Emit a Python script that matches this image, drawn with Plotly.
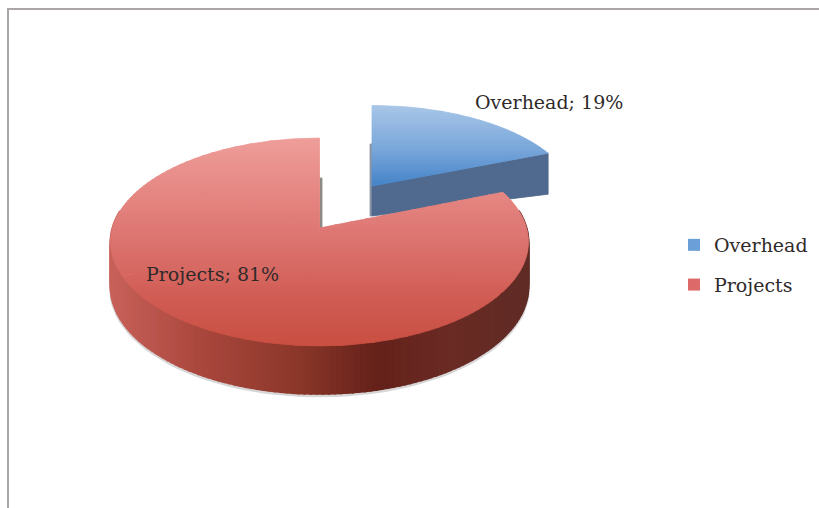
import math
import plotly.graph_objects as go

labels = ["Overhead", "Projects"]
values = [19, 81]
FONT = "DejaVu Serif"
TEXT = "#302a2a"


def hexrgb(h):
    return [int(h[i:i + 2], 16) for i in (1, 3, 5)]


def ramp(stops, t):
    if t <= stops[0][0]:
        return "#%02x%02x%02x" % tuple(hexrgb(stops[0][1]))
    for (a, ca), (b, cb) in zip(stops, stops[1:]):
        if t <= b:
            f = (t - a) / (b - a)
            A, B = hexrgb(ca), hexrgb(cb)
            return "#%02x%02x%02x" % tuple(round(A[i] + (B[i] - A[i]) * f) for i in range(3))
    return "#%02x%02x%02x" % tuple(hexrgb(stops[-1][1]))


def project(pie, theta):
    """Point on the rim of a tilted disc; theta is clockwise from 12 o'clock."""
    u, v = math.sin(theta), -math.cos(theta)
    d = 1 - pie["k"] * v
    return pie["cx"] + pie["R"] * u / d, pie["cy"] + pie["H"] * v / d, u, v


def clip(poly, lo, hi):
    def half(pts, keep, cross):
        out = []
        for i, p in enumerate(pts):
            q = pts[(i + 1) % len(pts)]
            if keep(p):
                out.append(p)
            if keep(p) != keep(q):
                t = (cross - p[1]) / (q[1] - p[1])
                out.append((p[0] + (q[0] - p[0]) * t, cross))
        return out
    r = half(poly, lambda p: p[1] >= lo, lo)
    return half(r, lambda p: p[1] <= hi, hi) if r else r


def area(fig, pts, color, width=0.8):
    xs = [p[0] for p in pts] + [pts[0][0]]
    ys = [p[1] for p in pts] + [pts[0][1]]
    fig.add_trace(go.Scatter(x=xs, y=ys, mode="lines", fill="toself", fillcolor=color,
                             line=dict(color=color, width=width), showlegend=False,
                             hoverinfo="skip"))


def shaded_top(fig, pie, start, stop, stops, band=3):
    """Fill a sector in horizontal bands; cut into convex wedges so clipping stays clean."""
    wedges = max(1, math.ceil(abs(stop - start) / math.radians(70)))
    rims = []
    for w in range(wedges):
        a0 = start + (stop - start) * w / wedges
        a1 = start + (stop - start) * (w + 1) / wedges
        rims.append([project(pie, a0 + (a1 - a0) * i / 40)[:2] for i in range(41)])
    all_y = [p[1] for r in rims for p in r] + [pie["cy"]]
    y = min(all_y)
    while y < max(all_y):
        color = ramp(stops, y + band / 2)
        xs, ys = [], []
        for r in rims:
            part = clip([(pie["cx"], pie["cy"])] + r, y, y + band)
            if len(part) >= 3:
                xs += [p[0] for p in part] + [part[0][0], None]
                ys += [p[1] for p in part] + [part[0][1], None]
        if xs:
            fig.add_trace(go.Scatter(x=xs, y=ys, mode="lines", fill="toself", fillcolor=color,
                                     line=dict(color=color, width=0.8), showlegend=False,
                                     hoverinfo="skip"))
        y += band


fractions = [v / sum(values) for v in values]
split = 2 * math.pi * fractions[0]

blue = dict(cx=372, cy=186, R=202, H=95, k=0.18)
red = dict(cx=319.5, cy=228, R=207, H=102, k=0.1346)

fig = go.Figure()

# soft shadow under the red disc
sh = [project(red, math.radians(a)) for a in range(95, 272, 3)]
fig.add_trace(go.Scatter(x=[p[0] for p in sh], y=[p[1] + 44 + 4 * max(p[3], 0) + 2 for p in sh],
                         mode="lines", line=dict(color="rgba(120,120,120,0.3)", width=3),
                         showlegend=False, hoverinfo="skip"))

# Overhead slice: cut face, then top
tip = project(blue, split)
ax, ay = blue["cx"], blue["cy"]
area(fig, [(ax - 2, ay - 42), (ax, ay - 42), (ax, ay + 30), (ax - 2, ay + 30)], "#8b95a3")
area(fig, [(ax, ay), tip[:2], (tip[0], tip[1] + 41), (ax, ay + 30)], "#4f6a8e")
shaded_top(fig, blue, 0, split, [(105, "#a9c7e8"), (150, "#79a6da"), (187, "#4383c8")])

# Projects slice: rim wall, then top
wall = [(108, "#c8625a"), (200, "#aa473d"), (300, "#8a3629"), (375, "#64211a"),
        (450, "#6a2b24"), (527, "#602b25")]
steps = 200
for i in range(steps):
    a = split + (2 * math.pi - split) * i / steps
    b = split + (2 * math.pi - split) * (i + 1) / steps
    p, q = project(red, a), project(red, b)
    dp, dq = 44 + 4 * max(p[3], 0), 44 + 4 * max(q[3], 0)
    if p[3] < -0.15 and q[3] < -0.15:
        continue
    area(fig, [p[:2], q[:2], (q[0], q[1] + dq), (p[0], p[1] + dp)],
         ramp(wall, (p[0] + q[0]) / 2), width=2)
area(fig, [(320, 178), (322, 178), (322, 228), (320, 228)], "#8d8a88")
shaded_top(fig, red, split, 2 * math.pi,
           [(138, "#ef9e9a"), (240, "#dd7470"), (300, "#d05c54"), (346, "#c94f42")])

# data labels
anno = [
    dict(x=473, y=102, text=f"{labels[0]}; {values[0]}%"),
    dict(x=144, y=274, text=f"{labels[1]}; {values[1]}%"),
]
for a in anno:
    fig.add_annotation(x=a["x"], y=a["y"], text=a["text"], showarrow=False, xanchor="left",
                       yanchor="middle", font=dict(family=FONT, size=19, color=TEXT))

# legend
for name, col, grp in zip(labels, ["#6b9fd8", "#dd6a68"], ["a", "b"]):
    fig.add_trace(go.Scatter(x=[None], y=[None], mode="markers", name=name, legendgroup=grp,
                             marker=dict(symbol="square", size=12, color=col)))

# picture frame
fig.add_shape(type="line", x0=8, x1=8, y0=8, y1=508, line=dict(color="#aaa6a6", width=2))
fig.add_shape(type="line", x0=8, x1=819, y0=9, y1=9, line=dict(color="#aaa6a6", width=2))

fig.update_layout(
    width=819, height=508, margin=dict(l=0, r=0, t=0, b=0),
    paper_bgcolor="#ffffff", plot_bgcolor="#ffffff",
    xaxis=dict(range=[0, 819], visible=False, fixedrange=True),
    yaxis=dict(range=[508, 0], visible=False, fixedrange=True),
    legend=dict(x=674 / 819, y=1 - 226 / 508, xanchor="left", yanchor="top",
                bgcolor="rgba(0,0,0,0)", tracegroupgap=12, itemwidth=30,
                font=dict(family=FONT, size=19, color=TEXT)),
)
fig.write_html("out.html", config=dict(displayModeBar=False),
               post_script="document.body.style.margin='0';document.body.style.overflow='hidden';")
